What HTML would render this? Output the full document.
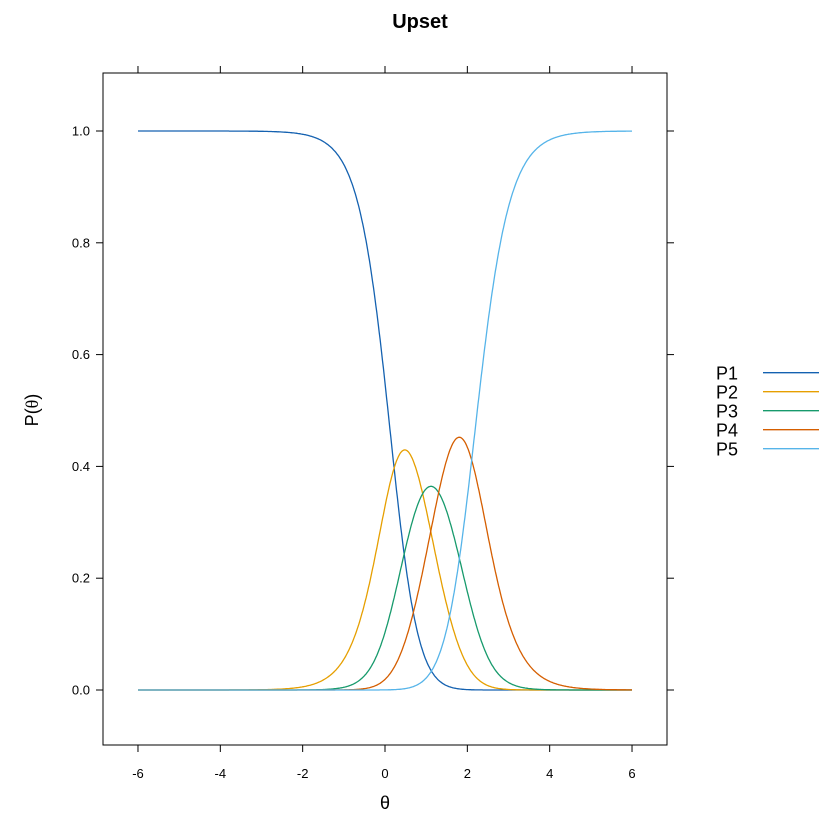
<!DOCTYPE html><html><head><style>body{margin:0;background:#fff}svg{display:block}text{font-family:"Liberation Sans",sans-serif}</style></head><body>
<svg id="s" width="840" height="840" xmlns="http://www.w3.org/2000/svg">
<text x="420" y="28" font-size="20" font-weight="bold" text-anchor="middle">Upset</text>
<rect x="103" y="73" width="564" height="672" fill="none" stroke="#000" stroke-width="1"/>
<g id="ax" stroke="#000" stroke-width="1"></g>
<g id="lb" font-size="13"></g>
<g id="cv" fill="none" stroke-width="1.3"></g>
<text x="385" y="809" font-size="18" text-anchor="middle" font-family="Liberation Serif,serif">θ</text>
<text transform="translate(38,410) rotate(-90)" font-size="18" text-anchor="middle">P(<tspan font-family="Liberation Serif,serif">θ</tspan>)</text>
<g font-size="18">
<text x="716" y="379.5">P1</text><text x="716" y="398.5">P2</text><text x="716" y="417.5">P3</text><text x="716" y="436.5">P4</text><text x="716" y="455.5">P5</text>
</g>
<g stroke-width="1.3">
<line x1="763" x2="819" y1="372.7" y2="372.7" stroke="#1461b0"/>
<line x1="763" x2="819" y1="391.7" y2="391.7" stroke="#e69f00"/>
<line x1="763" x2="819" y1="410.7" y2="410.7" stroke="#179a6c"/>
<line x1="763" x2="819" y1="429.7" y2="429.7" stroke="#d55e00"/>
<line x1="763" x2="819" y1="448.7" y2="448.7" stroke="#56b4e9"/>
</g>
</svg>
<script>
var ns="http://www.w3.org/2000/svg";
function X(t){return 385+t*41.17}function Y(p){return 690-p*559}
var ax=document.getElementById('ax'),lb=document.getElementById('lb'),cv=document.getElementById('cv');
function el(p,tag,a,txt){var e=document.createElementNS(ns,tag);for(var k in a)e.setAttribute(k,a[k]);if(txt!=null)e.textContent=txt;p.appendChild(e);}
for(var t=-6;t<=6;t+=2){var x=X(t);el(ax,'line',{x1:x,x2:x,y1:745,y2:752});el(ax,'line',{x1:x,x2:x,y1:73,y2:66});el(lb,'text',{x:x,y:778,'text-anchor':'middle'},t);}
for(var i=0;i<=5;i++){var p=i*0.2,y=Y(p);el(ax,'line',{x1:103,x2:96,y1:y,y2:y});el(ax,'line',{x1:667,x2:674,y1:y,y2:y});el(lb,'text',{x:90,y:y+4.5,'text-anchor':'end'},p.toFixed(1));}
function probs(P,th){var z=[0];for(var k=0;k<4;k++)z.push(P[k]*th+P[k+4]);var m=Math.max.apply(null,z),e=z.map(function(v){return Math.exp(v-m)}),S=e[0]+e[1]+e[2]+e[3]+e[4];return e.map(function(v){return v/S});}
var T=[[0,-1.34,.979],[0,-0.27,.68],[0,0.14,.446],[0,0.22,.40],
[1,0.43,.419],[1,0.22,.40],[1,0.87,.335],[1,-0.9,.054],[1,1.98,.054],
[2,1.125,.37],[2,0.87,.335],[2,1.34,.346],[2,-0.12,.054],[2,2.47,.054],
[3,1.85,.446],[3,1.34,.346],[3,2.13,.418],[3,0.32,.054],[3,3.40,.054],
[4,2.14,.446],[4,2.55,.68],[4,3.72,.979],[4,2.13,.418]];
function f(P){var s=0;for(var i=0;i<T.length;i++){var q=probs(P,T[i][1])[T[i][0]],t=T[i][2];s+=(q-t)*(q-t)+0.01*Math.pow(Math.log(q+1e-12)-Math.log(t),2);}return s;}
var a=1.5,b=[0.22,0.87,1.34,2.13],P0=[a,2*a,3*a,4*a],cs=0;for(var k=0;k<4;k++){cs+=b[k];P0.push(-a*cs);}
var n=8,S=[P0.slice()];for(i=0;i<n;i++){var v=P0.slice();v[i]+=0.5;S.push(v);}
var F=S.map(f);
for(var it=0;it<6000;it++){
 var idx=S.map(function(_,i){return i}).sort(function(i,j){return F[i]-F[j]});S=idx.map(function(i){return S[i]});F=idx.map(function(i){return F[i]});
 var c=new Array(n).fill(0);for(i=0;i<n;i++)for(var j=0;j<n;j++)c[j]+=S[i][j]/n;
 var w=S[n],xr=c.map(function(v,j){return v+(v-w[j])}),fr=f(xr);
 if(fr<F[0]){var xe=c.map(function(v,j){return v+2*(v-w[j])}),fe=f(xe);if(fe<fr){S[n]=xe;F[n]=fe}else{S[n]=xr;F[n]=fr}}
 else if(fr<F[n-1]){S[n]=xr;F[n]=fr}
 else{var xc=c.map(function(v,j){return v+0.5*(w[j]-v)}),fc=f(xc);if(fc<F[n]){S[n]=xc;F[n]=fc}else{for(i=1;i<=n;i++){S[i]=S[i].map(function(v,j){return S[0][j]+0.5*(v-S[0][j])});F[i]=f(S[i]);}}}
}
var best=S[0];for(i=1;i<=n;i++)if(F[i]<f(best))best=S[i];
var cols=['#1461b0','#e69f00','#179a6c','#d55e00','#56b4e9'],pts=[[],[],[],[],[]];
for(j=0;j<=600;j++){var th=-6+12*j/600,pr=probs(best,th);for(k=0;k<5;k++)pts[k].push(X(th).toFixed(1)+','+Y(pr[k]).toFixed(1));}
for(k=0;k<5;k++)el(cv,'polyline',{points:pts[k].join(' '),stroke:cols[k]});
</script>
</body></html>
